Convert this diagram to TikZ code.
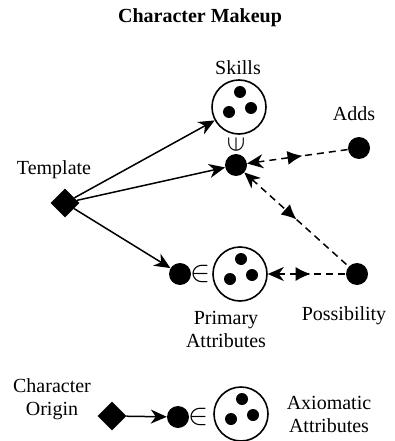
\documentclass[tikz,border=0pt]{standalone}
\usepackage{fontspec}
\setmainfont{Liberation Serif}
\usetikzlibrary{shapes.geometric,arrows.meta,decorations.markings}
% three members drawn inside a set
\newcommand\members[1]{\fill ([shift={(1,-15)}]#1.center) circle (6) ([shift={(-10,5)}]#1.center) circle (6) ([shift={(12,1)}]#1.center) circle (6);}
\begin{document}
\begin{tikzpicture}[x=1pt,y=-1pt,font=\fontsize{20}{23}\selectfont,line join=round,
	>={Stealth[length=16pt,width=14pt,inset=5pt]},
	elem/.style={circle,fill,inner sep=0pt,minimum size=22pt},
	bag/.style={circle,draw,line width=1.6pt,inner sep=0pt,minimum size=54pt},
	kind/.style={diamond,fill,inner sep=0pt,minimum size=29pt},
	memb/.style={inner sep=0pt,scale=1.45},
	link/.style={line width=1.5pt},
	maybe/.style={link,dash pattern=on 7pt off 5pt},
	midtip/.style={postaction={decorate},decoration={markings,mark=at position #1 with {\arrow{Latex[length=15pt,width=14pt]}}}}]
	\useasboundingbox (0,0) rectangle (395,441);
	\node[font=\fontsize{20}{23}\selectfont\bfseries] (title) at (200,18) {Character Makeup};
	% skills and union
	\node[bag] (skl) at (239,107) {};
	\node (skllab) at (238,68) {Skills};
	\node[memb,scale=0.9,rotate=90] (sub) at (236,144) {$\in$};
	\node[elem] (uni) at (236,165) {};
	\node[elem] (add) at (359,148) {};
	\node (addlab) at (354,114) {Adds};
	% template
	\node[kind] (tmpl) at (65,203) {};
	\node (tmpllab) at (54,170) {Template};
	% primary attributes
	\node[elem] (pel) at (180,274) {};
	\node[memb] (pin) at (201,274) {$\in$};
	\node[bag] (prim) at (240,274) {};
	\node[align=center] (primlab) at (226,329) {Primary\\Attributes};
	\node[elem] (pos) at (357,274) {};
	\node (poslab) at (344,316) {Possibility};
	% character origin
	\node[kind] (orig) at (112,416) {};
	\node[align=center] (origlab) at (52,399) {Character\\Origin};
	\node[elem] (oel) at (178,417) {};
	\node[memb] (oin) at (199,417) {$\in$};
	\node[bag] (axi) at (241,414) {};
	\node[align=center] (axilab) at (329,414) {Axiomatic\\Attributes};
	\members{skl}
	\members{prim}
	\members{axi}
	% connectors
	\draw[link,->] (tmpl) -- (skl);
	\draw[link,->] (tmpl) -- (uni);
	\draw[link,->] (tmpl) -- (pel);
	\draw[link,->] (orig) -- (oel);
	\draw[maybe,<-,midtip=0.55] (uni) -- (add);
	\draw[maybe,<-,midtip=0.5] (uni) -- (pos);
	\draw[maybe,<-,midtip=0.55] (prim) -- (pos);
\end{tikzpicture}
\end{document}
